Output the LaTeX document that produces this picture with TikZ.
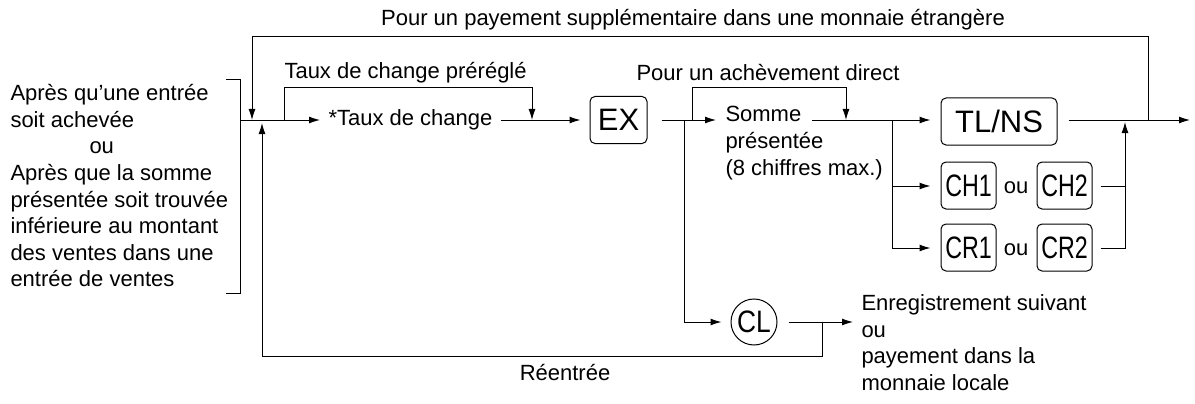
\documentclass[tikz,border=0pt]{standalone}
\usepackage{fontspec}
\setmainfont{Liberation Sans}
\usetikzlibrary{arrows.meta,calc}
\begin{document}
\begin{tikzpicture}[x=1pt,y=-1pt,line width=1pt,
  arr/.style={-{Latex[length=11pt,width=7pt]}},
  txt/.style={font=\fontsize{22}{26.6}\selectfont,inner sep=0pt},
  keybox/.style={draw,rounded corners=5pt,font=\fontsize{31}{31}\selectfont,inner sep=0pt,minimum height=47pt},
  ou/.style={font=\fontsize{22}{22}\selectfont,inner sep=0pt}]
\newcommand{\cond}[1]{\scalebox{0.75}[1]{#1}}
\useasboundingbox (0,0) rectangle (1195,404);
% left text
\node[txt,anchor=north west,align=left] (left) at (10,84) {Après qu’une entrée\\soit achevée\\\hspace{79pt}ou\\Après que la somme\\présentée soit trouvée\\inférieure au montant\\des ventes dans une\\entrée de ventes};
\draw (226,80) -- (240,80) -- (240,293) -- (226,293);
% nodes
\node[txt,anchor=west] (taux) at (328,120) {*Taux de change};
\node[keybox,minimum width=57pt] (ex) at (618.5,120) {EX};
\node[txt,anchor=north west,align=left] (somme) at (725,106) {Somme\\présentée\\(8 chiffres max.)};
\node[keybox,minimum width=116pt] (tl) at (999,121.5) {TL/NS};
\node[keybox,minimum width=55pt] (ch1) at (968.5,185.5) {\cond{CH1}};
\node[ou] (ouch) at (1016,188) {ou};
\node[keybox,minimum width=55pt] (ch2) at (1064.5,185.5) {\cond{CH2}};
\node[keybox,minimum width=55pt] (cr1) at (968.5,247.5) {\cond{CR1}};
\node[ou] (oucr) at (1016,250) {ou};
\node[keybox,minimum width=55pt] (cr2) at (1064.5,247.5) {\cond{CR2}};
\node[draw,circle,minimum size=46pt,inner sep=0pt,font=\fontsize{31}{31}\selectfont] (cl) at (754,322) {\scalebox{0.85}[1]{CL}};
\node[txt,anchor=north west,align=left] (enr) at (861,294) {Enregistrement suivant\\ou\\payement dans la\\monnaie locale};
\node[txt] (top) at (693,20) {Pour un payement supplémentaire dans une monnaie étrangère};
\node[txt,anchor=west] (pre) at (284,73) {Taux de change préréglé};
\node[txt,anchor=west] (dir) at (636,73) {Pour un achèvement direct};
\node[txt] (re) at (565,373) {Réentrée};
% coordinates
\coordinate (s) at (240,120);
\coordinate (end) at (1190,120);
% main line
\draw[arr] (s) -- ($(taux.west)+(-8,0)$);
\draw[arr] ($(taux.east)+(8,0)$) -- ($(ex.west)+(-9,0)$);
\draw[arr] ($(ex.east)+(14,0)$) -- ($(somme.north west)+(-9,14)$);
\draw[arr] (812,120) -- ($(tl.west)+(-10,-1.5)$);
\draw[arr] ($(tl.east)+(11,-1.5)$) -- (end);
% preset bypass
\draw[arr] (284,120) -- (284,88) -- (532,88) -- (532,120);
% direct bypass
\draw[arr] (692,120) -- (692,88) -- (846,88) -- (846,120);
% top loop
\draw[arr] (1148,120) -- (1148,37) -- (252,37) -- (252,120);
% branches to CH / CR
\draw (892,120) -- (892,186);
\draw[arr] (892,186) -- ($(ch1.west)+(-10,0.5)$);
\draw[arr] (892,186) -- (892,248) -- ($(cr1.west)+(-10,0.5)$);
\draw ($(ch2.east)+(8,0.5)$) -- (1125,186);
\draw[arr] ($(cr2.east)+(8,0.5)$) -- (1125,248) -- (1125,122);
% CL branch
\draw[arr] (684,120) -- (684,322) -- ($(cl.west)+(-9,0)$);
\draw[arr] ($(cl.east)+(11,0)$) -- ($(enr.north west)+(-8,28)$);
\draw[arr] (822,322) -- (822,356) -- (262,356) -- (262,123);
\end{tikzpicture}
\end{document}
